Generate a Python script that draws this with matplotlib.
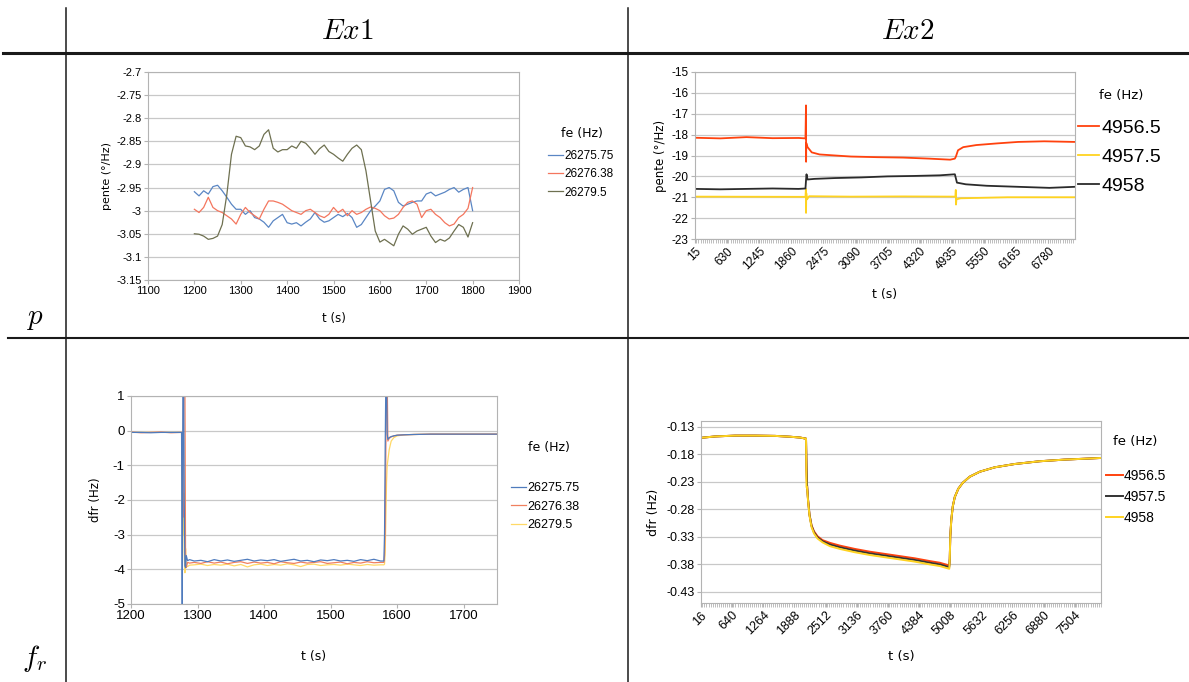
import numpy as np
import matplotlib
matplotlib.use("Agg")
import matplotlib.pyplot as plt
from matplotlib.lines import Line2D
from matplotlib.ticker import FormatStrFormatter, MultipleLocator

plt.rcParams['mathtext.fontset'] = 'cm'
plt.rcParams['font.family'] = ['Liberation Sans', 'DejaVu Sans']

# ---------------- data ----------------
# Ex1, p : slope (deg/Hz) vs t (s), one sample every 10 s
t_p1 = np.arange(1200, 1801, 10)
p1_26275_75 = [-2.959, -2.968, -2.957, -2.964, -2.948, -2.945, -2.957, -2.971, -2.986, -2.997,
               -2.997, -3.008, -3.000, -3.015, -3.018, -3.025, -3.036, -3.022, -3.015, -3.008,
               -3.026, -3.029, -3.026, -3.033, -3.025, -3.018, -3.004, -3.018, -3.025, -3.022,
               -3.015, -3.008, -3.013, -3.006, -3.015, -3.036, -3.030, -3.015, -3.000, -2.990,
               -2.979, -2.954, -2.950, -2.957, -2.982, -2.990, -2.986, -2.982, -2.979, -2.979,
               -2.964, -2.960, -2.968, -2.964, -2.960, -2.954, -2.950, -2.960, -2.954, -2.950,
               -3.000]
p1_26276_38 = [-2.997, -3.004, -2.993, -2.971, -2.993, -3.000, -3.004, -3.011, -3.018, -3.029,
               -3.008, -2.993, -3.004, -3.011, -3.018, -2.997, -2.979, -2.979, -2.982, -2.986,
               -2.993, -3.000, -3.004, -3.008, -3.000, -2.997, -3.004, -3.011, -3.015, -3.008,
               -2.993, -3.004, -2.997, -3.011, -3.000, -3.008, -3.004, -2.997, -2.992, -2.995,
               -3.000, -3.011, -3.018, -3.016, -3.008, -2.993, -2.982, -2.979, -2.986, -3.015,
               -3.000, -2.997, -3.008, -3.015, -3.026, -3.033, -3.029, -3.015, -3.008, -2.995,
               -2.950]
p1_26279_5 = [-3.050, -3.051, -3.055, -3.062, -3.060, -3.055, -3.030, -2.965, -2.878, -2.839,
              -2.842, -2.860, -2.862, -2.868, -2.860, -2.835, -2.825, -2.865, -2.873, -2.868,
              -2.868, -2.860, -2.865, -2.850, -2.854, -2.865, -2.878, -2.866, -2.858, -2.872,
              -2.878, -2.886, -2.893, -2.878, -2.865, -2.858, -2.868, -2.914, -2.979, -3.044,
              -3.068, -3.062, -3.069, -3.076, -3.051, -3.033, -3.040, -3.051, -3.044, -3.040,
              -3.036, -3.055, -3.069, -3.062, -3.066, -3.059, -3.044, -3.030, -3.036, -3.057,
              -3.026]

# Ex2, p
t_p2_a = [15, 500, 1000, 1500, 2000, 2130, 2140, 2142, 2145, 2170, 2250, 2400, 2700, 3000,
          3500, 4000, 4500, 4900, 4990, 5010, 5050, 5150, 5400, 5800, 6200, 6700, 7290]
p2_4956_5 = [-18.15, -18.18, -18.12, -18.17, -18.16, -18.18, -16.6, -19.3, -18.4, -18.6,
             -18.85, -18.95, -19.0, -19.05, -19.08, -19.1, -19.15, -19.2, -19.15, -19.05,
             -18.75, -18.6, -18.5, -18.42, -18.35, -18.32, -18.35]
t_p2_b = [15, 2130, 2138, 2141, 2145, 2160, 2200, 3000, 4000, 5000, 5008, 5012, 5020, 5100,
          6000, 7290]
p2_4957_5 = [-20.97, -20.98, -20.6, -21.75, -20.8, -21.1, -20.95, -20.97, -20.96, -20.97,
             -20.65, -21.35, -21.1, -21.05, -21.0, -21.0]
t_p2_c = [15, 500, 1000, 1500, 2000, 2130, 2140, 2150, 2170, 2300, 2700, 3200, 3700, 4200,
          4700, 4990, 5010, 5030, 5200, 5600, 6200, 6800, 7290]
p2_4958 = [-20.6, -20.62, -20.6, -20.58, -20.6, -20.58, -20.2, -19.9, -20.15, -20.12, -20.08,
           -20.05, -20.0, -19.98, -19.95, -19.9, -20.1, -20.3, -20.38, -20.45, -20.5, -20.55,
           -20.5]
ticks_p2 = [15, 630, 1245, 1860, 2475, 3090, 3705, 4320, 4935, 5550, 6165, 6780]

# Ex1, fr : dfr (Hz)
t_fr1 = [1200, 1215, 1230, 1245, 1260, 1275,
         1276, 1277, 1278, 1279, 1280, 1281, 1282, 1283, 1285, 1288,
         1295, 1305, 1315, 1325, 1335, 1345, 1355, 1365, 1375, 1385, 1395, 1405, 1415, 1425,
         1435, 1445, 1455, 1465, 1475, 1485, 1495, 1505, 1515, 1525, 1535, 1545, 1555, 1565,
         1575,
         1580, 1581, 1582, 1583, 1584, 1585, 1586, 1588, 1591, 1595, 1600, 1610, 1625, 1650,
         1700, 1750]
fr1_26275_75 = [-0.05, -0.05, -0.06, -0.05, -0.05, -0.05,
                -0.05, -5.5, 1.5, 1.5, -2.0, -3.9, -3.95, -3.6, -3.75, -3.72,
                -3.76, -3.74, -3.78, -3.72, -3.76, -3.73, -3.77, -3.74, -3.71, -3.76, -3.73,
                -3.75, -3.72, -3.77, -3.74, -3.71, -3.76, -3.74, -3.78, -3.73, -3.75, -3.72,
                -3.76, -3.74, -3.77, -3.72, -3.75, -3.71, -3.76,
                -3.76, -3.0, -0.5, 1.5, 1.5, -0.1, -0.25, -0.2, -0.17, -0.15, -0.13, -0.12,
                -0.11, -0.1, -0.1, -0.1]
fr1_26276_38 = [-0.04, -0.06, -0.05, -0.04, -0.06, -0.05,
                -0.05, -1.0, -2.5, 1.5, 1.5, 1.5, -3.9, -3.95, -3.8, -3.82,
                -3.80, -3.83, -3.78, -3.82, -3.79, -3.84, -3.80, -3.78, -3.83, -3.79, -3.82,
                -3.80, -3.84, -3.78, -3.81, -3.83, -3.79, -3.82, -3.80, -3.78, -3.83, -3.81,
                -3.79, -3.84, -3.80, -3.82, -3.78, -3.81, -3.80,
                -3.8, -3.6, -2.8, -0.5, 1.5, 1.5, -0.3, -0.22, -0.18, -0.15, -0.13, -0.12,
                -0.11, -0.1, -0.1, -0.1]
fr1_26279_5 = [-0.05, -0.05, -0.05, -0.05, -0.05, -0.05,
               -0.05, -2.5, -3.0, -1.8, -3.5, -4.1, -3.4, -3.9, -3.92, -3.88,
               -3.87, -3.85, -3.89, -3.86, -3.88, -3.85, -3.90, -3.86, -3.93, -3.87, -3.85,
               -3.89, -3.86, -3.88, -3.84, -3.87, -3.92, -3.86, -3.85, -3.89, -3.87, -3.86,
               -3.88, -3.85, -3.87, -3.89, -3.86, -3.88, -3.87,
               -3.87, -3.85, -3.5, -2.5, -1.5, -1.0, -0.85, -0.55, -0.3, -0.2, -0.15, -0.12,
               -0.11, -0.1, -0.1, -0.1]

# Ex2, fr
t_fr2 = [16, 300, 700, 1100, 1500, 1800, 2000, 2120, 2130, 2140, 2160, 2190, 2230, 2280,
         2350, 2450, 2600, 2800, 3100, 3400, 3700, 4000, 4300, 4600, 4800, 4990, 5000, 5010,
         5030, 5060, 5100, 5170, 5260, 5400, 5600, 5900, 6300, 6800, 7300, 7800, 8030]
fr2_4957_5 = [-0.1505, -0.148, -0.1465, -0.1465, -0.147, -0.1485, -0.150, -0.152, -0.20,
              -0.235, -0.262, -0.290, -0.310, -0.322, -0.331, -0.338, -0.344, -0.349, -0.355,
              -0.360, -0.364, -0.368, -0.372, -0.377, -0.380, -0.385, -0.370, -0.330, -0.300,
              -0.275, -0.258, -0.243, -0.232, -0.221, -0.212, -0.204, -0.198, -0.193, -0.190,
              -0.188, -0.187]
fr2_4956_5 = [-0.1505, -0.148, -0.1465, -0.1465, -0.147, -0.1485, -0.150, -0.152, -0.21,
              -0.235, -0.262, -0.290, -0.309, -0.320, -0.329, -0.336, -0.341, -0.346, -0.352,
              -0.357, -0.361, -0.365, -0.369, -0.374, -0.377, -0.382, -0.370, -0.330, -0.300,
              -0.275, -0.258, -0.243, -0.232, -0.221, -0.212, -0.204, -0.198, -0.193, -0.190,
              -0.188, -0.187]
fr2_4958 = [-0.1505, -0.148, -0.1465, -0.1465, -0.147, -0.1485, -0.150, -0.152, -0.24,
            -0.240, -0.264, -0.292, -0.312, -0.324, -0.333, -0.340, -0.347, -0.352, -0.358,
            -0.363, -0.367, -0.371, -0.375, -0.380, -0.383, -0.388, -0.370, -0.330, -0.300,
            -0.275, -0.258, -0.243, -0.232, -0.221, -0.212, -0.204, -0.198, -0.193, -0.190,
            -0.188, -0.187]
ticks_fr2 = [16, 640, 1264, 1888, 2512, 3136, 3760, 4384, 5008, 5632, 6256, 6880, 7504]

# ---------------- figure ----------------
W, H = 1189, 682
fig = plt.figure(figsize=(W / 100, H / 100), dpi=100)


def box(x0, y0, x1, y1):
    return [x0 / W, 1 - y1 / H, (x1 - x0) / W, (y1 - y0) / H]


def fline(x0, y0, x1, y1, lw):
    fig.add_artist(Line2D([x0 / W, x1 / W], [1 - y0 / H, 1 - y1 / H],
                          transform=fig.transFigure, color='#1a1a1a', lw=lw))


def style(ax, fs):
    ax.yaxis.grid(True, color='#c8c8c8', lw=0.9)
    ax.set_axisbelow(True)
    for s in ax.spines.values():
        s.set_color('#b3b3b3')
        s.set_linewidth(0.8)
    ax.tick_params(direction='out', length=3, color='#b3b3b3', labelsize=fs, pad=1.5)
    ax.yaxis.set_major_formatter(FormatStrFormatter('%g'))


def legend(ax, handles_labels, title, tx, ty, lx, ly, fs, tfs, spacing, hl):
    fig.text(tx / W, 1 - ty / H, title, ha='center', va='center', fontsize=tfs,
             family='DejaVu Sans')
    hs, ls = handles_labels
    ax.legend(hs, ls, loc='upper left', bbox_to_anchor=(lx / W, 1 - ly / H),
              bbox_transform=fig.transFigure, frameon=False, fontsize=fs,
              borderpad=0, borderaxespad=0, handlelength=hl, handletextpad=0.1,
              labelspacing=spacing)


# table lines and headings
fline(66, 8, 66, 682, 1.1)
fline(628, 8, 628, 682, 1.1)
fline(3, 53, 1189, 53, 2.2)
fline(8, 338, 1189, 338, 1.5)
fig.text(347 / W, 1 - 31 / H, r'$Ex1$', ha='center', va='center', fontsize=21)
fig.text(908 / W, 1 - 31 / H, r'$Ex2$', ha='center', va='center', fontsize=21)
fig.text(35 / W, 1 - 318 / H, r'$p$', ha='center', va='center', fontsize=21)
fig.text(35 / W, 1 - 658 / H, r'$f_r$', ha='center', va='center', fontsize=21)

# ---- Ex1 / p ----
ax = fig.add_axes(box(148, 72, 519, 280))
l1, = ax.plot(t_p1, p1_26275_75, color='#5a86c4', lw=0.9)
l2, = ax.plot(t_p1, p1_26276_38, color='#f4765e', lw=0.9)
l3, = ax.plot(t_p1, p1_26279_5, color='#6e7050', lw=0.9)
ax.set_xlim(1100, 1900)
ax.set_ylim(-3.15, -2.7)
ax.set_xticks(range(1100, 1901, 100))
ax.set_yticks(np.linspace(-3.15, -2.7, 10))
style(ax, 8)
ax.set_ylabel('pente (°/Hz)', fontsize=8, family='DejaVu Sans', labelpad=3)
ax.set_xlabel('t (s)', fontsize=8.5, family='DejaVu Sans', labelpad=11)
legend(ax, ([l1, l2, l3], ['26275.75', '26276.38', '26279.5']), 'fe (Hz)',
       582, 133, 548, 150, 8.5, 9, 0.53, 1.3)

# ---- Ex2 / p ----
ax = fig.add_axes(box(695, 72, 1075, 239))
l1, = ax.plot(t_p2_a, p2_4956_5, color='#ff420e', lw=1.3)
l2, = ax.plot(t_p2_b, p2_4957_5, color='#ffd320', lw=1.3)
l3, = ax.plot(t_p2_c, p2_4958, color='#2b2b2b', lw=1.3)
ax.set_xlim(15, 7290)
ax.set_ylim(-23, -15)
ax.set_xticks(ticks_p2)
ax.set_xticklabels([str(v) for v in ticks_p2], rotation=45, ha='right', rotation_mode='anchor')
ax.xaxis.set_minor_locator(MultipleLocator(41))
ax.set_yticks(range(-23, -14))
style(ax, 8.5)
ax.tick_params(axis='x', which='both', length=3, color='#b3b3b3')
ax.set_ylabel('pente (°/Hz)', fontsize=8.5, family='DejaVu Sans', labelpad=3)
ax.set_xlabel('t (s)', fontsize=9, family='DejaVu Sans', labelpad=11)
legend(ax, ([l1, l2, l3], ['4956.5', '4957.5', '4958']), 'fe (Hz)',
       1121, 96, 1078, 119, 14, 9.5, 0.6, 1.1)

# ---- Ex1 / fr ----
ax = fig.add_axes(box(131, 396, 497, 604))
l3, = ax.plot(t_fr1, fr1_26279_5, color='#ffd966', lw=0.9)
l2, = ax.plot(t_fr1, fr1_26276_38, color='#f0805f', lw=0.9)
l1, = ax.plot(t_fr1, fr1_26275_75, color='#4f7bbd', lw=0.9)
ax.set_xlim(1200, 1750)
ax.set_ylim(-5, 1)
ax.set_xticks(range(1200, 1701, 100))
ax.set_yticks(range(-5, 2))
style(ax, 9.5)
ax.set_ylabel('dfr (Hz)', fontsize=8.5, family='DejaVu Sans', labelpad=8)
ax.set_xlabel('t (s)', fontsize=9, family='DejaVu Sans', labelpad=20)
legend(ax, ([l1, l2, l3], ['26275.75', '26276.38', '26279.5']), 'fe (Hz)',
       549, 448, 511, 482, 9, 9, 0.52, 1.2)

# ---- Ex2 / fr ----
ax = fig.add_axes(box(701, 421, 1101, 603))
l1, = ax.plot(t_fr2, fr2_4956_5, color='#ff420e', lw=1.4)
l2, = ax.plot(t_fr2, fr2_4957_5, color='#333333', lw=1.4)
l3, = ax.plot(t_fr2, fr2_4958, color='#ffd320', lw=1.4)
ax.set_xlim(16, 8030)
ax.set_ylim(-0.45, -0.12)
ax.set_xticks(ticks_fr2)
ax.set_xticklabels([str(v) for v in ticks_fr2], rotation=45, ha='right', rotation_mode='anchor')
ax.xaxis.set_minor_locator(MultipleLocator(41.6))
ax.set_yticks(np.linspace(-0.43, -0.13, 7))
style(ax, 9)
ax.tick_params(axis='x', which='both', length=3, color='#b3b3b3')
ax.set_ylabel('dfr (Hz)', fontsize=9, family='DejaVu Sans', labelpad=5)
ax.set_xlabel('t (s)', fontsize=9.5, family='DejaVu Sans', labelpad=9)
legend(ax, ([l1, l2, l3], ['4956.5', '4957.5', '4958']), 'fe (Hz)',
       1135, 442, 1106, 469, 10, 9.5, 0.5, 1.2)

fig.savefig('out.png', dpi=100)
